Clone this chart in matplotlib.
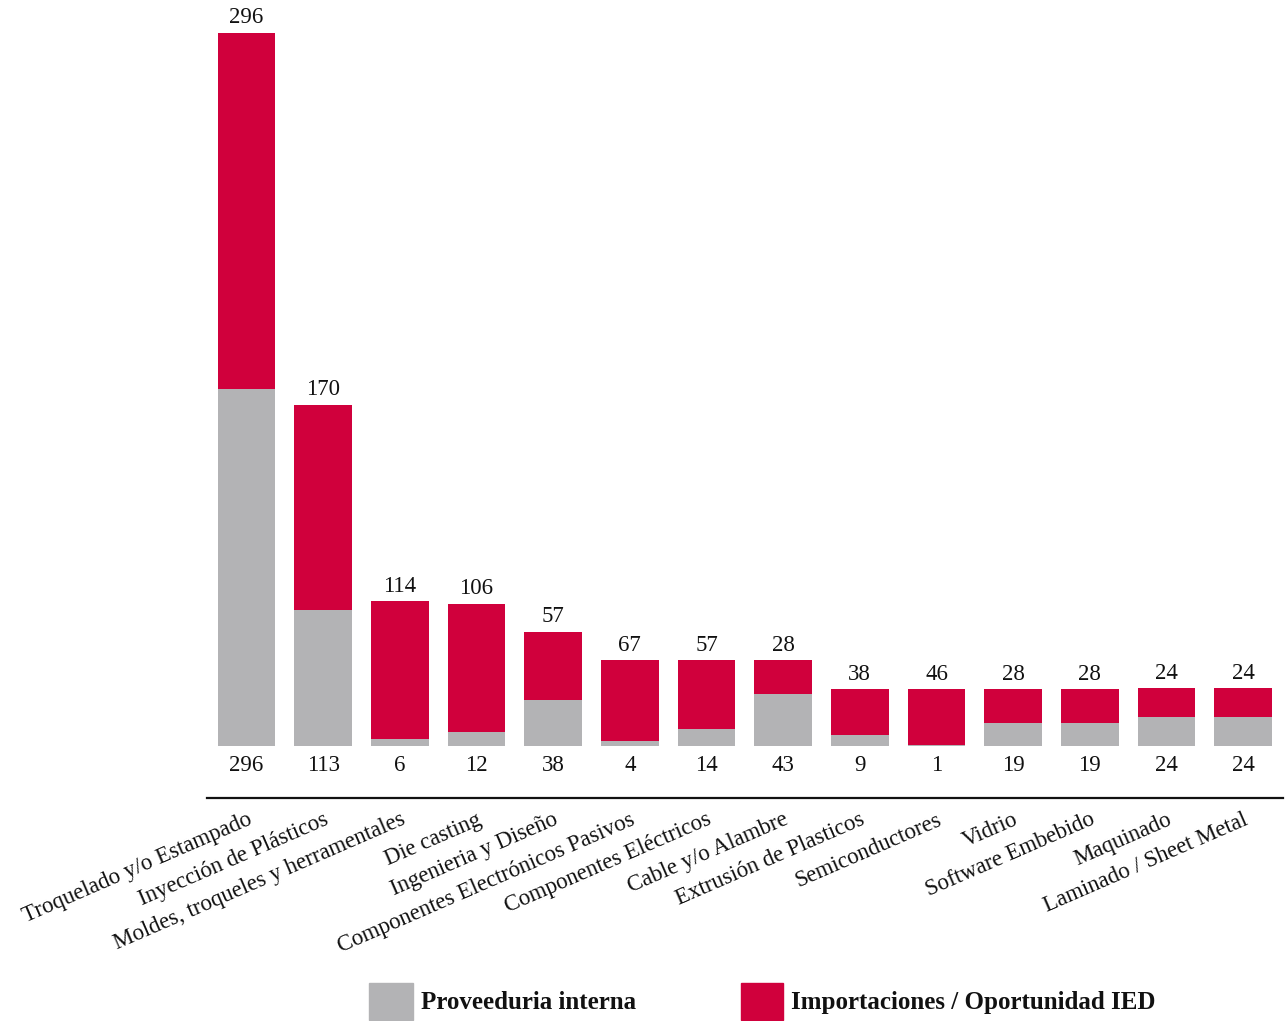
import matplotlib
matplotlib.use("Agg")
import matplotlib.pyplot as plt
from matplotlib.patches import Rectangle

categories = ["Troquelado y/o Estampado", "Inyección de Plásticos",
              "Moldes, troqueles y herramentales", "Die casting",
              "Ingenieria y Diseño", "Componentes Electrónicos Pasivos",
              "Componentes Eléctricos", "Cable y/o Alambre",
              "Extrusión de Plasticos", "Semiconductores", "Vidrio",
              "Software Embebido", "Maquinado", "Laminado / Sheet Metal"]
interna = [296, 113, 6, 12, 38, 4, 14, 43, 9, 1, 19, 19, 24, 24]
importaciones = [296, 170, 114, 106, 57, 67, 57, 28, 38, 46, 28, 28, 24, 24]
legend_labels = ["Proveeduria interna", "Importaciones / Oportunidad IED"]

GRAY = "#b3b3b5"
RED = "#d0003c"
FONT = "Liberation Serif"

W, H = 1287, 1021
fig = plt.figure(figsize=(W / 100, H / 100), dpi=100)
ax = fig.add_axes([207 / W, (H - 798) / H, (1283 - 207) / W, (798 - 5) / H])

x = list(range(len(categories)))
ax.bar(x, interna, width=0.75, color=GRAY, linewidth=0)
ax.bar(x, importaciones, width=0.75, bottom=interna, color=RED, linewidth=0)

scale = 1.205  # px per unit
ax.set_xlim(-0.515, 13.52)
ax.set_ylim(-52 / scale, 741 / scale)

for i in x:
    top = interna[i] + importaciones[i]
    ax.annotate(str(importaciones[i]), (i, top), xytext=(0, 15 * 0.72),
                textcoords="offset points", ha="center", va="center",
                fontsize=16.5, family=FONT, color="#111111")
    ax.annotate(str(interna[i]), (i, 0), xytext=(0, -19 * 0.72),
                textcoords="offset points", ha="center", va="center",
                fontsize=16.5, family=FONT, color="#111111")

for s in ["top", "right", "left"]:
    ax.spines[s].set_visible(False)
ax.spines["bottom"].set_linewidth(1.6)
ax.spines["bottom"].set_color("#111111")
ax.set_yticks([])
ax.set_xticks(x)
ax.set_xticklabels(categories, rotation=23.5, ha="right", va="top",
                   rotation_mode="anchor", fontsize=16.5, family=FONT,
                   color="#111111")
ax.tick_params(axis="x", length=0, pad=8)

# legend
fig.patches.append(Rectangle((369 / W, (H - 1020) / H), 44 / W, 37 / H,
                             transform=fig.transFigure, color=GRAY))
fig.patches.append(Rectangle((741 / W, (H - 1020) / H), 42 / W, 37 / H,
                             transform=fig.transFigure, color=RED))
fig.text(421 / W, (H - 1002) / H, legend_labels[0], ha="left", va="center",
         fontsize=18, family=FONT, weight="bold", color="#111111")
fig.text(791 / W, (H - 1002) / H, legend_labels[1], ha="left", va="center",
         fontsize=18, family=FONT, weight="bold", color="#111111")

fig.savefig("out.png", dpi=100)
